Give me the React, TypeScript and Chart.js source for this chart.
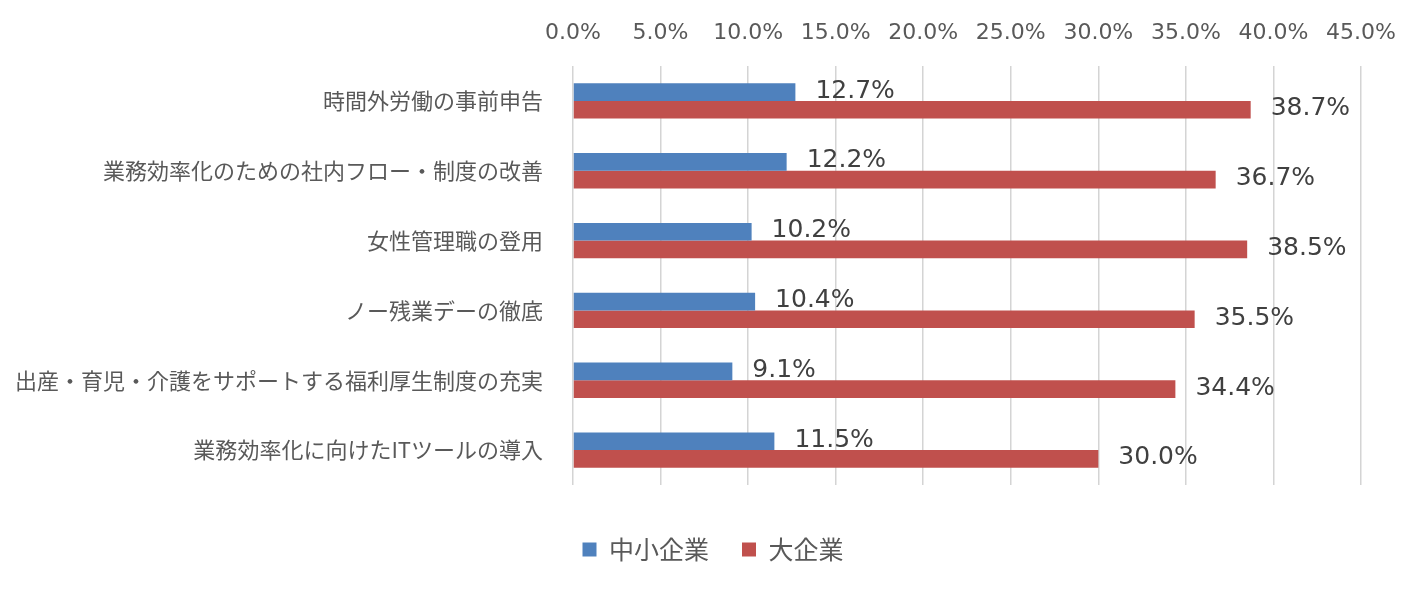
import React, { useEffect, useRef } from "react";
import { Chart, registerables } from "chart.js";

Chart.register(...registerables);

const categories = [
  "時間外労働の事前申告",
  "業務効率化のための社内フロー・制度の改善",
  "女性管理職の登用",
  "ノー残業デーの徹底",
  "出産・育児・介護をサポートする福利厚生制度の充実",
  "業務効率化に向けたITツールの導入",
];
const seriesNames = ["中小企業", "大企業"];
const smeValues = [12.7, 12.2, 10.2, 10.4, 9.1, 11.5];
const largeValues = [38.7, 36.7, 38.5, 35.5, 34.4, 30.0];
const axisMin = 0;
const axisMax = 45;
const axisStep = 5;

const BLUE = "#4f81bd";
const RED = "#c0504d";
const NUM_FONT = "'DejaVu Sans', Verdana, sans-serif";
const JP_FONT = "'Noto Sans CJK JP', 'Noto Sans', sans-serif";

const valueLabels = {
  id: "valueLabels",
  afterDatasetsDraw(chart: any) {
    const ctx = chart.ctx;
    ctx.save();
    ctx.font = `25px ${NUM_FONT}`;
    ctx.fillStyle = "#404040";
    ctx.textAlign = "left";
    ctx.textBaseline = "middle";
    chart.data.datasets.forEach((ds: any, di: number) => {
      const meta = chart.getDatasetMeta(di);
      meta.data.forEach((el: any, i: number) => {
        const v = ds.data[i] as number;
        ctx.fillText(v.toFixed(1) + "%", el.x + 20, el.y - 1);
      });
    });
    ctx.restore();
  },
};

export default function App() {
  const ref = useRef<HTMLCanvasElement | null>(null);
  useEffect(() => {
    if (!ref.current) return;
    const chart = new Chart(ref.current, {
      type: "bar",
      data: {
        labels: categories,
        datasets: [
          {
            label: seriesNames[0],
            data: smeValues,
            backgroundColor: BLUE,
            categoryPercentage: 0.505,
            barPercentage: 1.0,
          },
          {
            label: seriesNames[1],
            data: largeValues,
            backgroundColor: RED,
            categoryPercentage: 0.505,
            barPercentage: 1.0,
          },
        ],
      },
      options: {
        indexAxis: "y",
        responsive: false,
        animation: false,
        layout: { padding: { top: 0, right: 0, bottom: 10, left: 0 } },
        plugins: {
          tooltip: { enabled: false },
          legend: {
            position: "bottom",
            labels: {
              boxWidth: 14,
              boxHeight: 14,
              padding: 33,
              color: "#595959",
              font: { family: JP_FONT, size: 25 },
            },
          },
        },
        scales: {
          x: {
            position: "top",
            min: axisMin,
            max: axisMax,
            ticks: {
              stepSize: axisStep,
              color: "#595959",
              font: { family: NUM_FONT, size: 22 },
              padding: 20,
              callback: (v: any) => Number(v).toFixed(1) + "%",
            },
            grid: { color: "#d4d4d4", lineWidth: 1.5, drawTicks: false },
            border: { display: false },
            afterFit: (s: any) => {
              s.height = 58;
            },
          },
          xSpacer: {
            type: "linear",
            axis: "x",
            position: "bottom",
            display: true,
            ticks: { display: false },
            grid: { display: false, drawTicks: false },
            border: { display: false },
            afterFit: (s: any) => {
              s.height = 19;
            },
          },
          y: {
            ticks: {
              color: "#595959",
              font: { family: JP_FONT, size: 22 },
              padding: 30,
            },
            grid: { display: false, drawTicks: false },
            border: { display: false },
            afterFit: (s: any) => {
              s.width = 565;
            },
          },
          ySpacer: {
            type: "linear",
            axis: "y",
            position: "right",
            display: true,
            ticks: { display: false },
            grid: { display: false, drawTicks: false },
            border: { display: false },
            afterFit: (s: any) => {
              s.width = 57;
            },
          },
        },
      },
      plugins: [valueLabels],
    });
    return () => chart.destroy();
  }, []);
  return (
    <canvas ref={ref} width={1410} height={574} style={{ display: "block" }} />
  );
}
